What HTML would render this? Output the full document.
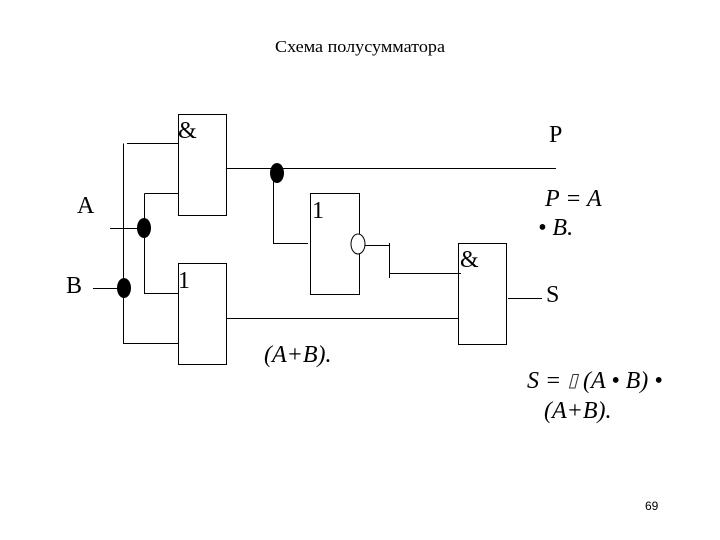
<!DOCTYPE html>
<html>
<head>
<meta charset="utf-8">
<style>
html,body{margin:0;padding:0;background:#fff;width:720px;height:540px;overflow:hidden}
svg{display:block}
text{font-family:"Liberation Serif",serif;fill:#000}
.l{font-size:24px}
.i{font-size:24px;font-style:italic}
</style>
</head>
<body>
<svg width="720" height="540" viewBox="0 0 720 540" xmlns="http://www.w3.org/2000/svg">
<g fill="none" stroke="#000" stroke-width="1">
<rect x="178.5" y="114.5" width="48" height="101"/>
<rect x="178.5" y="263.5" width="48" height="101"/>
<rect x="310.5" y="193.5" width="49" height="101"/>
<rect x="458.5" y="243.5" width="48" height="101"/>
<path d="M123.5 143.5V343.5H178M127 143.5H178M144.5 193.5H178M144.5 193.5V293.5H178M110 228.5H137M93 288.5H118"/>
<path d="M226 168.5H556M273.5 178V243.5H308M365 245.5H389.5M389.5 243V278M389.5 273.5H461M226 318.5H458M508 298.5H542"/>
</g>
<ellipse cx="144" cy="228" rx="7" ry="10" fill="#000"/>
<ellipse cx="124" cy="288" rx="7" ry="10" fill="#000"/>
<ellipse cx="277" cy="173" rx="7" ry="10" fill="#000"/>
<ellipse cx="358" cy="244" rx="7" ry="10" fill="#fff" stroke="#000" stroke-width="1"/>
<polygon points="569.5,388 573,374.5 578.5,374.5 575,388" fill="none" stroke="#333" stroke-width="1"/>
<text x="275" y="52" font-size="17" textLength="170" lengthAdjust="spacingAndGlyphs">Схема полусумматора</text>
<text class="l" x="77" y="213">A</text>
<text class="l" x="66" y="293">B</text>
<text class="l" x="178" y="138">&amp;</text>
<text class="l" x="178" y="288">1</text>
<text class="l" x="312" y="218">1</text>
<text class="l" x="460" y="267">&amp;</text>
<text class="l" x="549" y="142">P</text>
<text class="l" x="546" y="302">S</text>
<text class="i" x="545" y="206" xml:space="preserve">P = A</text>
<text class="i" x="538" y="235">• B.</text>
<text class="i" x="264" y="362">(A+B).</text>
<text class="i" x="527" y="388">S =</text>
<text class="i" x="583" y="388">(A • B) •</text>
<text class="i" x="544" y="418">(A+B).</text>
<text x="645" y="510" font-size="12" style="font-family:'Liberation Sans',sans-serif">69</text>
</svg>
</body>
</html>
